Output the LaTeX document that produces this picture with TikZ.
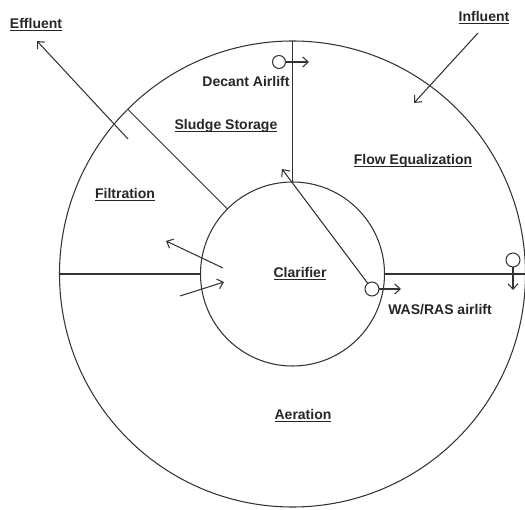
\documentclass[tikz,border=0pt]{standalone}
\usepackage{fontspec}
\setmainfont{Liberation Sans}
\usetikzlibrary{arrows.meta}
\newcommand\ulx[1]{\setbox0\hbox{#1}\rlap{\rule[-2.2pt]{\wd0}{1.1pt}}\box0}
\begin{document}
\begin{tikzpicture}[x=1pt,y=1pt,
  ln/.style={draw=black!80, line width=1.05pt},
  arr/.style={ln, -{Straight Barb[length=5.5pt,width=10pt,line width=1.05pt]}},
  lbl/.style={font=\fontsize{14}{16}\selectfont\bfseries, text=black!85, inner sep=1pt},
  ring/.style={circle, ln, inner sep=0pt, outer sep=0pt},
  lift/.style={circle, ln, inner sep=0pt, outer sep=0pt, minimum size=13pt}]
\useasboundingbox (0,0) rectangle (525,-510);
\coordinate (C) at (292.5,-274);
\node[ring, minimum size=466pt] (outer) at (C) {};
\node[ring, minimum size=184pt] (inner) at (C) {};
% dividers
\draw[ln] (outer.west) -- (inner.west);
\draw[ln] (inner.east) -- (outer.east);
\draw[ln] (outer.north) -- (inner.north);
\draw[ln] (outer.135) -- (inner.135);
% labels
\node[lbl] (eff) at (36,-25) {\ulx{Effluent}};
\node[lbl] (inf) at (484,-18) {\ulx{Influent}};
\node[lbl] (dec) at (246,-81) {Decant Airlift};
\node[lbl] (slu) at (226,-126) {\ulx{Sludge Storage}};
\node[lbl] (flo) at (413,-161) {\ulx{Flow Equalization}};
\node[lbl] (fil) at (125,-195) {\ulx{Filtration}};
\node[lbl] (cla) at (300,-274) {\ulx{Clarifier}};
\node[lbl] (was) at (440,-310) {WAS/RAS airlift};
\node[lbl] (aer) at (303,-416) {\ulx{Aeration}};
% effluent / influent arrows
\coordinate (effT) at (128,-139);
\coordinate (effH) at (37,-41);
\draw[arr] (effT) -- (effH);
\coordinate (infT) at (478,-33);
\coordinate (infH) at (414,-103);
\draw[arr] (infT) -- (infH);
% decant airlift
\node[lift] (dc) at (279,-62) {};
\coordinate (dcH) at (309,-62);
\draw[arr] (dc.east) -- (dcH);
% WAS/RAS airlift
\node[lift, minimum size=14pt] (wc) at (372,-289) {};
\coordinate (wcH) at (401,-289);
\draw[arr] (wc.east) -- (wcH);
\coordinate (upH) at (282,-169);
\draw[arr] (wc.127) -- (upH);
% right airlift
\node[lift, minimum size=14pt] (rc) at (513,-260) {};
\coordinate (rcH) at (513,-290);
\draw[arr] (rc.south) -- (rcH);
% arrows at clarifier inlet
\coordinate (aT) at (223,-268);
\coordinate (aH) at (166,-241);
\draw[arr] (aT) -- (aH);
\coordinate (bT) at (180,-296);
\coordinate (bH) at (224,-282);
\draw[arr] (bT) -- (bH);
\end{tikzpicture}
\end{document}
